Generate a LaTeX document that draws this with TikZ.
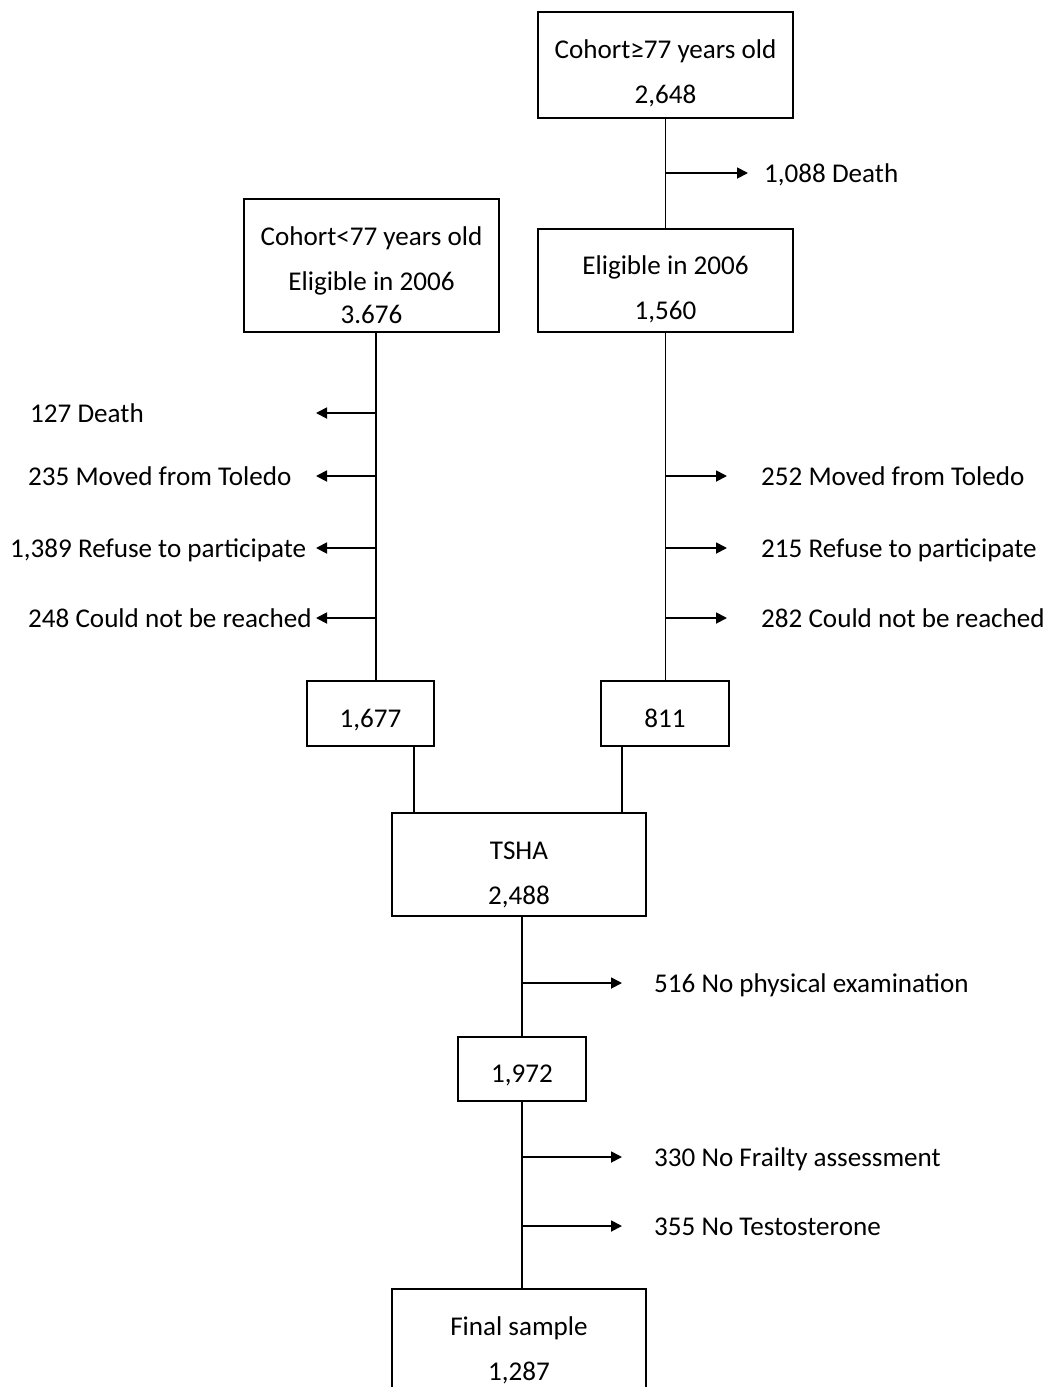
\documentclass[tikz,border=0pt]{standalone}
\usepackage{fontspec}
\setmainfont{Carlito}
\usetikzlibrary{arrows.meta}
% struts that set the space above the first line and below the last one
\newcommand{\topgap}[1]{\rule{0pt}{#1pt}}
\newcommand{\botgap}[1]{\rule[-#1pt]{0pt}{#1pt}}

\begin{document}
\begin{tikzpicture}[x=1pt,y=-1pt,
    font=\fontsize{27.1}{45}\selectfont,
    box/.style={draw, line width=1.8pt, inner sep=0pt, align=center, anchor=north},
    lbl/.style={anchor=base west, inner sep=0pt},
    link/.style={line width=1.8pt},
    arr/.style={line width=1.8pt, -{Triangle[length=11pt,width=11pt]}}]
  \useasboundingbox (0,0) rectangle (1043,1387);
  \clip (0,0) rectangle (1043,1387);
  % boxes
  \node[box, minimum width=255] (old) at (665.5,11) {\topgap{47}Cohort≥77 years old\\2,648\botgap{14}};
  \node[box, minimum width=255] (eligR) at (665.5,228) {\topgap{46}Eligible in 2006\\1,560\botgap{12}};
  \node[box, minimum width=255] (eligL) at (371.5,198) {\topgap{47}Cohort<77 years old\\Eligible in 2006\\[-12pt]3.676\botgap{8}};
  \node[box, minimum width=127] (n1677) at (370.5,680) {\topgap{47}1,677\botgap{18}};
  \node[box, minimum width=128] (n811) at (665,680) {\topgap{47}811\botgap{18}};
  \node[box, minimum width=254] (tsha) at (519,812) {\topgap{47}TSHA\\2,488\botgap{11}};
  \node[box, minimum width=128] (n1972) at (522,1036) {\topgap{46}1,972\botgap{18}};
  \node[box, minimum width=254] (final) at (519,1288) {\topgap{47}Final sample\\1,287\botgap{11}};
  % exclusions
  \node[lbl] (d1088) at (764,182) {1,088 Death};
  \node[lbl] (l127) at (30,422) {127 Death};
  \node[lbl] (l235) at (28,485) {235 Moved from Toledo};
  \node[lbl] (l1389) at (10,557) {1,389 Refuse to participate};
  \node[lbl] (l248) at (28,627) {248 Could not be reached};
  \node[lbl] (r252) at (761,485) {252 Moved from Toledo};
  \node[lbl] (r215) at (761,557) {215 Refuse to participate};
  \node[lbl] (r282) at (761,627) {282 Could not be reached};
  \node[lbl] (p516) at (654,992) {516 No physical examination};
  \node[lbl] (f330) at (654,1166) {330 No Frailty assessment};
  \node[lbl] (t355) at (654,1235) {355 No Testosterone};
  % arrow tips
  \coordinate (t1088) at (748,173);
  \coordinate (t127) at (316,413);
  \coordinate (t235) at (316,476);
  \coordinate (t1389) at (316,548);
  \coordinate (t248) at (316,618);
  \coordinate (t252) at (727,476);
  \coordinate (t215) at (727,548);
  \coordinate (t282) at (727,618);
  \coordinate (t516) at (622,983);
  \coordinate (t330) at (622,1157);
  \coordinate (t355) at (622,1226);
  % spines
  \coordinate (lspine) at ([xshift=4.5]eligL.south);
  \coordinate (jl) at ([xshift=43.5]n1677.south);
  \coordinate (jr) at ([xshift=-43]n811.south);
  \draw[link] (old) -- (eligR);
  \draw[arr] (old.south |- t1088) -- (t1088);
  \draw[link] (lspine) -- (lspine |- n1677.north);
  \foreach \c in {t127,t235,t1389,t248}
    \draw[arr] (lspine |- \c) -- (\c);
  \draw[link] (eligR.south) -- (eligR.south |- n811.north);
  \foreach \c in {t252,t215,t282}
    \draw[arr] (eligR.south |- \c) -- (\c);
  \draw[link] (jl) -- (jl |- tsha.north);
  \draw[link] (jr) -- (jr |- tsha.north);
  \draw[link] (n1972.north |- tsha.south) -- (n1972.north);
  \draw[link] (n1972.south) -- (n1972.south |- final.north);
  \foreach \c in {t516,t330,t355}
    \draw[arr] (n1972.north |- \c) -- (\c);
\end{tikzpicture}
\end{document}
